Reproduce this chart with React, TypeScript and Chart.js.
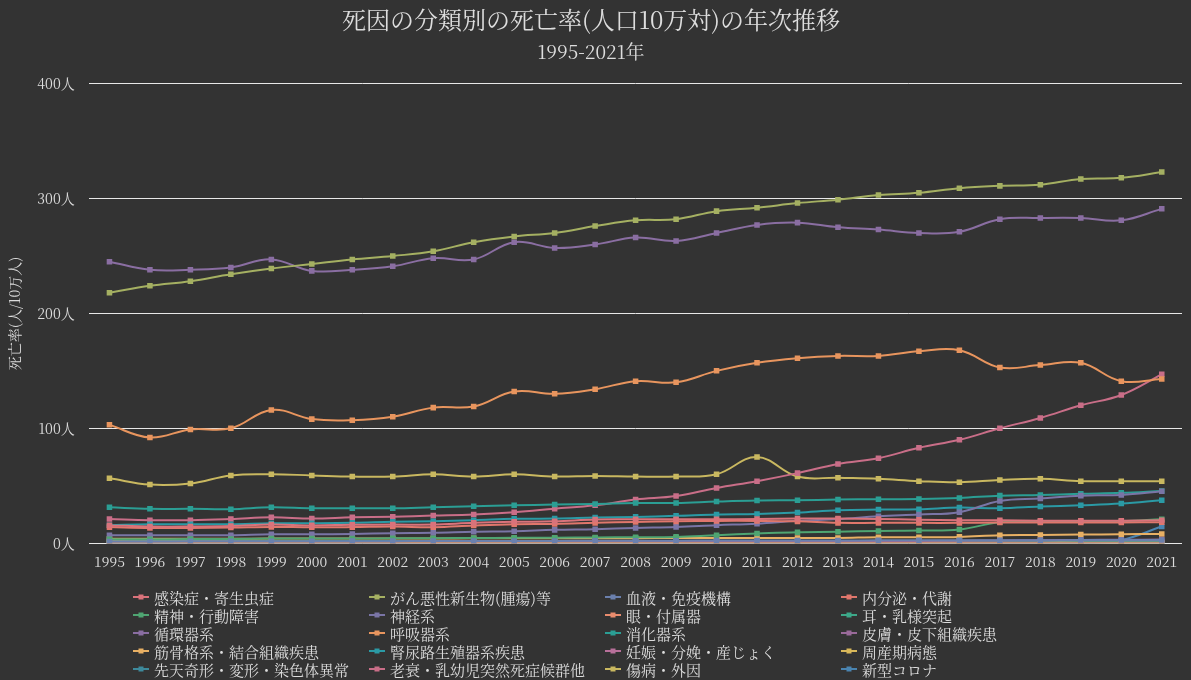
import React, { useEffect, useRef } from "react";
import { Chart, registerables } from "chart.js";

Chart.register(...registerables);

const years = ["1995","1996","1997","1998","1999","2000","2001","2002","2003","2004","2005","2006","2007","2008","2009","2010","2011","2012","2013","2014","2015","2016","2017","2018","2019","2020","2021"];

const yTickValues = [0, 100, 200, 300, 400];

const names = [
  "感染症・寄生虫症", "がん悪性新生物(腫瘍)等", "血液・免疫機構", "内分泌・代謝",
  "精神・行動障害", "神経系", "眼・付属器", "耳・乳様突起",
  "循環器系", "呼吸器系", "消化器系", "皮膚・皮下組織疾患",
  "筋骨格系・結合組織疾患", "腎尿路生殖器系疾患", "妊娠・分娩・産じょく", "周産期病態",
  "先天奇形・変形・染色体異常", "老衰・乳幼児突然死症候群他", "傷病・外因", "新型コロナ",
];

const colors = [
  "#d9737b", "#a5b062", "#6b80ad", "#e0776c",
  "#4fa572", "#7a75a6", "#e98c6e", "#3da889",
  "#8a6ea2", "#e8955e", "#2b9e94", "#9a6a9a",
  "#e8b064", "#2b9aa5", "#b8709a", "#d9b85a",
  "#3e8a9c", "#c96e88", "#c9b860", "#4a84b0",
];

const infectious = [15.5,14.5,14.5,15,16.2,15.5,16,16.2,16.2,17.7,18.6,19,20.6,20.8,20.9,20.9,21,21.4,21.4,21,20.5,20,20,19.5,19.5,19.5,20];
const cancer = [218,224,228,234,239,243,247,250,254,262,267,270,276,281,282,289,292,296,299,303,305,309,311,312,317,318,323];
const blood = [1.5,1.5,1.6,1.6,1.7,1.7,1.8,1.8,1.9,1.9,2,2,2.1,2.1,2.2,2.3,2.3,2.4,2.4,2.5,2.5,2.6,2.6,2.6,2.7,2.7,2.8];
const endocrine = [14,13.3,13.3,13.6,14.2,13.8,14,14.5,13.9,15.4,16.5,16.8,17.7,18.5,19,19.4,19.4,19,17.7,17.7,17.7,17.7,18,18,18,18,18.3];
const mental = [3.5,3.5,3.6,3.7,4,4,4.1,4.2,4.4,4.5,4.7,4.8,5,5.2,5.5,7,8.4,9.6,9.9,10.7,11,11.9,18.3,18.8,19.1,19.1,20.9];
const nervous = [7,7,7,7,7.8,7.8,8,8.7,9,9.9,10.4,11.6,12.2,13.3,14.2,15.7,17,19.5,21,23.5,25,27,36.8,39,41.4,42,45.2];
const eye = [0,0,0,0,0,0,0,0,0,0,0,0,0,0,0,0,0,0,0,0,0,0,0,0,0,0,0];
const ear = [0,0,0,0,0,0,0,0,0,0,0,0,0,0,0,0,0,0,0,0,0,0,0,0,0,0,0];
const circulatory = [245,238,238,240,247,237,238,241,248,247,262,257,260,266,263,270,277,279,275,273,270,271,282,283,283,281,291];
const respiratory = [103,92,99,100,116,108,107,110,118,119,132,130,134,141,140,150,157,161,163,163,167,168,153,155,157,141,143];
const digestive = [31.3,29.9,29.9,29.6,31.3,30.4,30.4,30.4,31.3,32.2,33,33.6,34.2,35,35,36.2,37.1,37.4,38,38.3,38.5,39.4,41.4,42,43,43.8,45.5];
const skin = [0.6,0.6,0.7,0.7,0.8,0.8,0.8,0.9,0.9,1,1,1.1,1.2,1.3,1.4,1.5,1.6,1.7,1.8,1.9,2,2.2,2.4,2.6,2.8,3,3.2];
const musculo = [3.8,3.8,3.8,3.9,4,4,4,4.1,4.1,4.2,4.3,4.3,4.4,4.4,4.5,4.5,4.6,4.6,4.6,5.2,5.2,5.5,7,7.2,7.5,7.8,8.1];
const genitourinary = [15.7,16.5,16.5,16.5,17.4,17.4,17.7,18.6,19.1,20,21.2,21.4,22.3,22.9,23.8,25,25.5,26.7,28.7,29.3,29.6,31,30.4,31.9,33,34.5,37.4];
const pregnancy = [0.1,0.1,0.1,0.1,0.1,0.1,0.1,0.1,0.1,0.1,0.1,0.1,0.1,0.1,0.1,0.1,0.1,0.1,0.1,0.1,0.1,0.1,0.1,0.1,0.1,0.1,0.1];
const perinatal = [1.6,1.5,1.4,1.4,1.3,1.2,1.1,1.1,1,0.9,0.9,0.8,0.8,0.8,0.7,0.7,0.7,0.6,0.6,0.6,0.6,0.5,0.5,0.5,0.5,0.4,0.4];
const congenital = [2.2,2.1,2.1,2,2,2,1.9,1.9,1.9,1.8,1.8,1.8,1.8,1.7,1.7,1.7,1.7,1.6,1.6,1.6,1.6,1.5,1.5,1.5,1.5,1.4,1.4];
const senility = [21,20,20,21,22.5,21.5,22.5,23,24,25,27,30,33,38,41,48,54,61,69,74,83,90,100,109,120,129,147];
const injury = [56.5,51,52,59,60,59,58,58,60,58,60,58,58.5,58,58,60,75,58,57,56,54,53,55,56,54,54,54];
const covid = [0,0,0,0,0,0,0,0,0,0,0,0,0,0,0,0,0,0,0,0,0,0,0,0,0,2.8,14.5];

const seriesValues = [
  infectious, cancer, blood, endocrine,
  mental, nervous, eye, ear,
  circulatory, respiratory, digestive, skin,
  musculo, genitourinary, pregnancy, perinatal,
  congenital, senility, injury, covid,
];

const FONT = "'Noto Serif CJK JP', 'DejaVu Serif', serif";
const TEXT = "#dddddd";

const gridLegend = {
  id: "gridLegend",
  afterDraw(chart: any) {
    const ctx = chart.ctx as CanvasRenderingContext2D;
    const ds = chart.data.datasets;
    ctx.save();
    ctx.font = `15px ${FONT}`;
    ctx.textBaseline = "middle";
    ctx.textAlign = "left";
    ds.forEach((d: any, i: number) => {
      const col = i % 4;
      const row = Math.floor(i / 4);
      const x0 = 133 + col * 236;
      const y = 597 + row * 18;
      ctx.strokeStyle = d.borderColor;
      ctx.lineWidth = 2;
      ctx.beginPath();
      ctx.moveTo(x0, y);
      ctx.lineTo(x0 + 16, y);
      ctx.stroke();
      ctx.fillStyle = d.borderColor;
      ctx.fillRect(x0 + 5.5, y - 2.5, 5, 5);
      ctx.fillStyle = TEXT;
      ctx.fillText(d.label, x0 + 21, y + 1);
    });
    ctx.restore();
  },
};

export default function App() {
  const ref = useRef<HTMLCanvasElement | null>(null);
  useEffect(() => {
    document.body.style.margin = "0";
    document.body.style.background = "#333333";
    Chart.defaults.font.family = FONT;
    const chart = new Chart(ref.current as HTMLCanvasElement, {
      type: "line",
      data: {
        labels: years,
        datasets: names.map((n, i) => ({
          label: n,
          data: seriesValues[i],
          borderColor: colors[i],
          backgroundColor: colors[i],
          borderWidth: 2,
          pointStyle: "rect",
          pointRadius: 2.5,
          pointHoverRadius: 3,
          tension: 0.4,
          fill: false,
        })),
      },
      options: {
        responsive: false,
        animation: false,
        devicePixelRatio: 1,
        layout: { padding: { left: 0, right: 9, top: 0, bottom: 100 } },
        plugins: {
          legend: { display: false },
          tooltip: { enabled: false },
          title: {
            display: true,
            text: "死因の分類別の死亡率(人口10万対)の年次推移",
            color: TEXT,
            font: { size: 24, weight: "normal", family: FONT },
            padding: { top: 5, bottom: 4 },
          },
          subtitle: {
            display: true,
            text: "1995-2021年",
            color: TEXT,
            font: { size: 19, weight: "normal", family: FONT },
            padding: { top: 3, bottom: 20 },
          },
        },
        scales: {
          x: {
            offset: true,
            grid: { display: false, drawTicks: false },
            border: { display: false },
            ticks: { color: TEXT, font: { size: 14 }, padding: 10, maxRotation: 0, autoSkip: false },
          },
          y: {
            min: 0,
            max: 400,
            afterBuildTicks: (axis: any) => {
              axis.ticks = yTickValues.map((v) => ({ value: v }));
            },
            grid: { color: "#e8e8e8", lineWidth: 1, drawTicks: false },
            border: { display: false },
            ticks: {
              color: TEXT,
              font: { size: 14 },
              padding: 14.5,
              callback: (v: any) => `${v}人`,
            },
            title: {
              display: true,
              text: "死亡率(人/10万人)",
              color: TEXT,
              font: { size: 14 },
              padding: { top: 6, bottom: 0 },
            },
          },
        },
      },
      plugins: [gridLegend],
    });
    return () => chart.destroy();
  }, []);
  return (
    <div style={{ width: 1191, height: 680, background: "#333333" }}>
      <canvas ref={ref} width={1191} height={680} style={{ display: "block" }} />
    </div>
  );
}
